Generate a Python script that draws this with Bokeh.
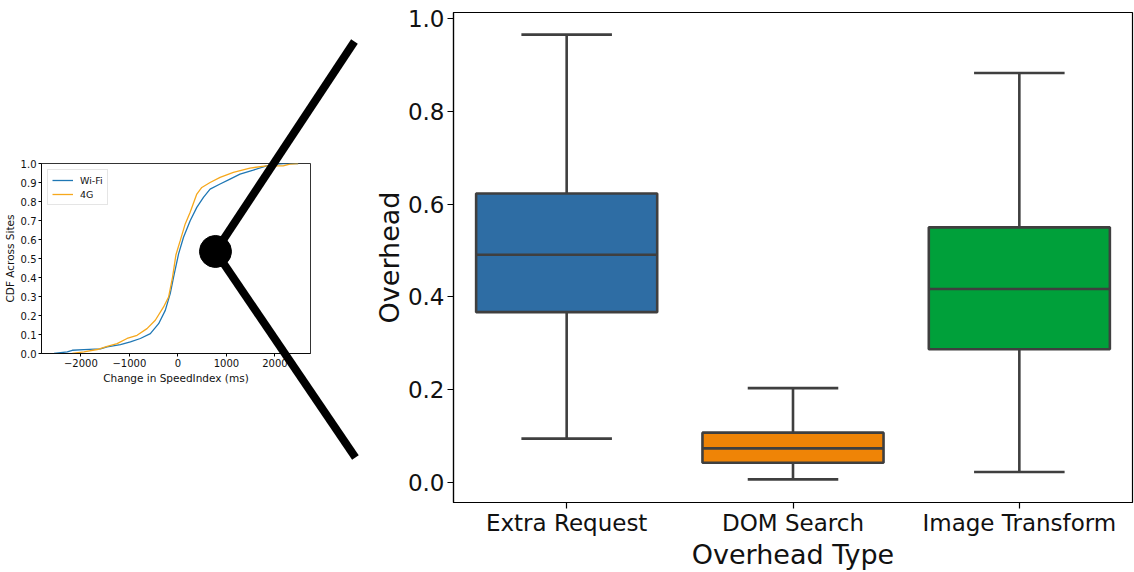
import numpy as np
from bokeh.plotting import figure
from bokeh.layouts import row
from bokeh.models import (Range1d, FactorRange, FixedTicker, ColumnDataSource,
                          Legend, LegendItem, NumeralTickFormatter)
from bokeh.transform import dodge
from bokeh.embed import file_html
from bokeh.resources import INLINE

# ---------------- data: CDF of change in SpeedIndex ----------------
wifi_x = [-2555, -2280, -2178, -1938, -1596, -1459, -1185, -979, -774, -568,
          -397, -260, -158, -89, 14, 116, 253, 390, 527, 664, 870, 1075,
          1281, 1555, 1829, 2034, 2171, 2480]
wifi_y = [0.0, 0.009, 0.017, 0.02, 0.024, 0.035, 0.047, 0.061, 0.079, 0.105,
          0.157, 0.227, 0.315, 0.402, 0.524, 0.612, 0.699, 0.769, 0.822, 0.865,
          0.892, 0.918, 0.944, 0.965, 0.988, 0.997, 1.0, 1.0]
lte_x = [-2178, -1938, -1664, -1459, -1253, -1048, -842, -637, -466, -295,
         -192, -110, -40, 48, 151, 253, 390, 493, 664, 870, 1144, 1486,
         1829, 2171, 2308, 2479]
lte_y = [0.0, 0.009, 0.021, 0.038, 0.052, 0.079, 0.096, 0.131, 0.175, 0.245,
         0.297, 0.402, 0.52, 0.594, 0.682, 0.743, 0.839, 0.874, 0.9, 0.927,
         0.953, 0.976, 0.988, 0.988, 0.997, 1.0]
cdf_xticks = [-2000, -1000, 0, 1000, 2000]
cdf_xtick_labels = ["\u22122000", "\u22121000", "0", "1000", "2000"]
cdf_yticks = [0.0, 0.1, 0.2, 0.3, 0.4, 0.5, 0.6, 0.7, 0.8, 0.9, 1.0]

# ---------------- data: overhead box plot ----------------
categories = ["Extra Request", "DOM Search", "Image Transform"]
whisker_low = [0.094, 0.006, 0.022]
q1 = [0.367, 0.042, 0.287]
median = [0.491, 0.073, 0.417]
q3 = [0.623, 0.107, 0.550]
whisker_high = [0.966, 0.203, 0.883]
box_colors = ["#2e6da4", "#ef8406", "#00a03a"]
overhead_yticks = [0.0, 0.2, 0.4, 0.6, 0.8, 1.0]

# zoom connector (in CDF data units)
zoom_point_x = [775]
zoom_point_y = [0.537]
zoom_end_x = [3640, 3660]
zoom_end_y = [1.642, -0.547]

FONT = "DejaVu Sans"
TXT = "#111111"

# ---------------- left: CDF ----------------
p1 = figure(width=370, height=572, x_range=Range1d(-2812, 2734),
            y_range=Range1d(0, 1), output_backend="svg", toolbar_location=None,
            min_border_left=41, min_border_right=60, min_border_top=163,
            min_border_bottom=219)
p1.frame_align = False
p1.grid.visible = False
p1.outline_line_color = "#000000"
p1.outline_line_width = 0.8
p1.background_fill_color = "white"
p1.border_fill_color = "white"

r_w = p1.line(wifi_x, wifi_y, line_color="#1f77b4", line_width=1.3)
r_g = p1.line(lte_x, lte_y, line_color="#f6a81c", line_width=1.3)

leg = Legend(items=[LegendItem(label="Wi-Fi", renderers=[r_w]),
                    LegendItem(label="4G", renderers=[r_g])],
             location="top_left", label_text_font_size="9.5px",
             label_text_font=FONT, label_text_color=TXT,
             glyph_width=21, glyph_height=12, label_height=12, spacing=2,
             padding=4, margin=6, label_standoff=7,
             border_line_color="#cccccc", background_fill_alpha=0.85)
p1.add_layout(leg)

p1.xaxis.ticker = FixedTicker(ticks=cdf_xticks)
p1.xaxis.major_label_overrides = dict(zip(cdf_xticks, cdf_xtick_labels))
p1.yaxis.ticker = FixedTicker(ticks=cdf_yticks)
p1.yaxis.formatter = NumeralTickFormatter(format="0.0")
p1.xaxis.axis_label = "Change in SpeedIndex (ms)"
p1.yaxis.axis_label = "CDF Across Sites"
for ax in (p1.xaxis, p1.yaxis):
    ax.axis_label_text_font = FONT
    ax.axis_label_text_font_size = "10.5px"
    ax.axis_label_text_font_style = "normal"
    ax.axis_label_text_color = TXT
    ax.major_label_text_font = FONT
    ax.major_label_text_font_size = "10px"
    ax.major_label_text_color = TXT
    ax.major_tick_out = 3
    ax.major_tick_in = 0
    ax.minor_tick_line_color = None
    ax.major_label_standoff = 2
    ax.axis_label_standoff = 2
    ax.axis_line_color = "#000000"
    ax.axis_line_width = 0.8
    ax.major_tick_line_color = "#000000"

# connector drawn above everything
p1.segment(x0=zoom_point_x * 2, y0=zoom_point_y * 2, x1=zoom_end_x, y1=zoom_end_y,
           line_color="black", line_width=8, level="overlay")
p1.scatter(zoom_point_x, zoom_point_y, size=32, marker="circle",
           fill_color="black", line_color="black", level="overlay")

# ---------------- right: box plot ----------------
p2 = figure(width=764, height=572, x_range=FactorRange(*categories),
            y_range=Range1d(-0.0438, 1.0137), output_backend="svg",
            toolbar_location=None, min_border_left=83, min_border_right=2,
            min_border_top=12, min_border_bottom=70)
p2.frame_align = False
p2.grid.visible = False
p2.outline_line_color = "#000000"
p2.outline_line_width = 1.2
p2.border_fill_color = "white"

src = ColumnDataSource(dict(cat=categories, lo=whisker_low, q1=q1, med=median,
                            q3=q3, hi=whisker_high, color=box_colors))
EDGE = "#3f3f3f"
LW = 2.6
p2.segment(x0="cat", y0="q3", x1="cat", y1="hi", source=src,
           line_color=EDGE, line_width=LW)
p2.segment(x0="cat", y0="lo", x1="cat", y1="q1", source=src,
           line_color=EDGE, line_width=LW)
p2.segment(x0=dodge("cat", -0.2, range=p2.x_range), y0="hi",
           x1=dodge("cat", 0.2, range=p2.x_range), y1="hi", source=src,
           line_color=EDGE, line_width=LW)
p2.segment(x0=dodge("cat", -0.2, range=p2.x_range), y0="lo",
           x1=dodge("cat", 0.2, range=p2.x_range), y1="lo", source=src,
           line_color=EDGE, line_width=LW)
p2.vbar(x="cat", width=0.8, bottom="q1", top="q3", source=src,
        fill_color="color", line_color=EDGE, line_width=LW)
p2.segment(x0=dodge("cat", -0.4, range=p2.x_range), y0="med",
           x1=dodge("cat", 0.4, range=p2.x_range), y1="med", source=src,
           line_color=EDGE, line_width=LW)

p2.yaxis.ticker = FixedTicker(ticks=overhead_yticks)
p2.yaxis.formatter = NumeralTickFormatter(format="0.0")
p2.xaxis.axis_label = "Overhead Type"
p2.yaxis.axis_label = "Overhead"
for ax in (p2.xaxis, p2.yaxis):
    ax.axis_label_text_font = FONT
    ax.axis_label_text_font_size = "27px"
    ax.axis_label_text_font_style = "normal"
    ax.axis_label_text_color = TXT
    ax.major_label_text_font = FONT
    ax.major_label_text_font_size = "23px"
    ax.major_label_text_color = TXT
    ax.major_tick_out = 6
    ax.major_tick_in = 0
    ax.minor_tick_line_color = None
    ax.axis_line_color = "#000000"
    ax.axis_line_width = 1.2
    ax.major_tick_line_color = "#000000"
    ax.major_tick_line_width = 1.2
p2.xaxis.major_label_standoff = 1
p2.xaxis.axis_label_standoff = 0
p2.yaxis.major_label_standoff = 3
p2.yaxis.axis_label_standoff = 0

layout = row(p1, p2)
open("out.html", "w").write(file_html(layout, INLINE))
